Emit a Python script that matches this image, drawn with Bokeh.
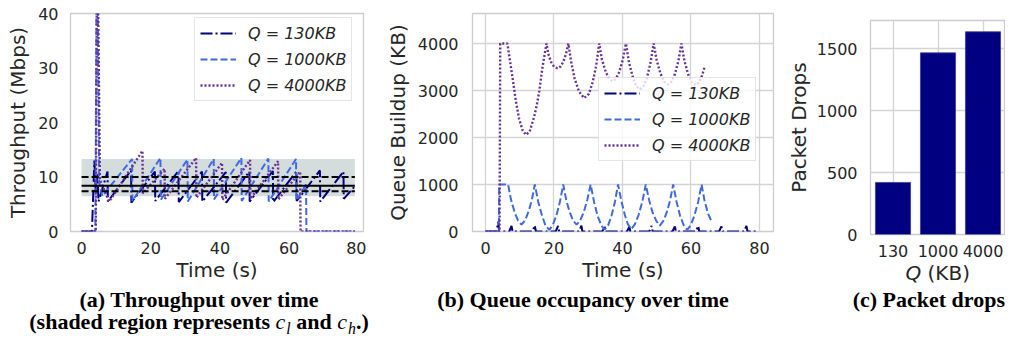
from bokeh.plotting import figure
from bokeh.models import Range1d, FixedTicker, Legend, LegendItem, Div, FactorRange
from bokeh.layouts import column, row
from bokeh.embed import file_html
from bokeh.resources import INLINE

# ---------------- data ----------------
series_labels = ["Q = 130KB", "Q = 1000KB", "Q = 4000KB"]

# (a) throughput (Mbps) over time (s)
thr_t_130 = [0, 3.0, 3.7, 4.1, 4.6, 4.9, 7.5, 7.6, 14.3, 14.4, 21.2, 21.3, 28.0, 28.1, 34.8, 34.9,
             41.7, 41.8, 48.5, 48.6, 55.3, 55.4, 62.1, 62.2, 68.9, 69.0, 75.7, 75.8, 79.0]
thr_v_130 = [0, 0, 13.0, 7.5, 10.5, 5.5, 11.0, 5.5, 11.2, 5.3, 11.0, 5.6, 11.1, 5.4, 11.0, 5.5,
             10.9, 5.3, 11.0, 5.5, 11.1, 5.4, 11.0, 5.6, 11.2, 5.5, 11.0, 6.0, 8.3]
thr_t_1000 = [0, 4.0, 4.3, 4.7, 5.1, 6.0, 14.6, 14.7, 22.8, 22.9, 30.6, 30.7, 38.2, 38.3, 46.2, 46.3,
              54.0, 54.1, 62.0, 62.1, 64.9, 65.0, 79.0]
thr_v_1000 = [0, 0, 41, 41, 9.0, 6.5, 13.3, 5.6, 13.5, 5.8, 13.2, 5.5, 13.3, 5.9, 13.5, 5.6,
              13.4, 5.5, 13.3, 5.7, 8.6, 0, 0]
thr_t_4000 = [0, 4.1, 4.4, 4.8, 5.3, 8.0, 17.6, 17.7, 24.0, 24.1, 33.1, 33.2, 40.6, 40.7, 48.7, 48.8,
              56.8, 56.9, 63.2, 63.3, 79.0]
thr_v_4000 = [0, 0, 41, 41, 9.5, 5.5, 14.8, 7.0, 11.5, 6.0, 13.5, 6.2, 12.6, 5.8, 13.1, 6.0,
              12.9, 5.9, 11.0, 0, 0]
band_t = [0, 79]            # shaded region extent (s)
band_c = [6.45, 13.3]       # c_l, c_h (Mbps)
ref_levels = [10.0, 8.4, 7.4]
ref_dashes = ["7 3", "solid", "7 3"]

# (b) queue buildup (KB) over time (s)
q_t_130 = [0, 3.2, 3.7, 4.0, 6.9, 7.6, 7.9, 13.7, 14.4, 14.7, 20.5, 21.2, 21.5, 27.3, 28.0, 28.3,
           34.1, 34.8, 35.1, 41.3, 42.0, 42.3, 47.8, 48.5, 48.8, 54.6, 55.3, 55.6, 61.4, 62.1, 62.4,
           68.2, 68.9, 69.2, 75.5, 76.2, 76.5, 79.5]
q_v_130 = [0, 0, 210, 0, 0, 120, 0, 0, 130, 0, 0, 120, 0, 0, 125, 0,
           0, 110, 0, 0, 100, 0, 0, 120, 0, 0, 110, 0, 0, 120, 0,
           0, 110, 0, 0, 120, 0, 0]
q_t_1000 = [0, 3.9, 4.0, 6.6,
            7.4, 8.5, 9.5, 10.5, 11.5, 12.5, 13.5, 14.4,
            15.4, 16.5, 17.5, 18.6, 19.6, 20.7, 21.7, 22.7,
            23.6, 24.6, 25.6, 26.6, 27.6, 28.7, 29.7, 30.7,
            31.7, 32.7, 33.8, 34.8, 35.8, 36.8, 37.8, 38.7,
            39.7, 40.7, 41.6, 42.6, 43.6, 44.7, 45.8, 46.8,
            47.8, 48.8, 49.9, 50.9, 51.9, 52.9, 53.9, 54.8,
            55.8, 56.8, 57.9, 58.9, 59.9, 61.0, 62.1, 63.1,
            64.0, 65.0, 66.0]
q_v_1000 = [0, 0, 1000, 1000,
            690, 410, 230, 145, 230, 410, 660, 1000,
            630, 340, 130, 35, 130, 340, 620, 1000,
            660, 410, 230, 145, 230, 410, 670, 1000,
            630, 340, 130, 40, 130, 340, 630, 1000,
            640, 350, 150, 55, 150, 350, 640, 1000,
            660, 400, 220, 125, 220, 400, 660, 1000,
            630, 340, 130, 35, 130, 340, 630, 1000,
            640, 380, 215]
q_t_4000 = [0, 4.1, 4.3, 6.4,
            6.9, 7.9, 8.85, 9.8, 10.8, 11.8, 12.9, 14.2, 15.0, 15.7, 16.6, 17.8,
            18.4, 19.2, 20.1, 21.0, 21.9, 22.7, 23.5, 24.2,
            25.0, 26.0, 27.3, 28.8, 30.2, 31.3, 32.3, 33.2,
            34.0, 35.1, 36.1, 37.1, 38.1, 39.1, 40.1, 41.0,
            41.9, 43.0, 44.0, 45.1, 46.1, 47.1, 48.1, 49.1,
            50.0, 51.1, 52.2, 53.3, 54.3, 55.3, 56.3, 57.2,
            58.1, 59.2, 60.3, 61.4, 62.3, 63.2, 64.0]
q_v_4000 = [0, 0, 4000, 4000,
            3750, 3270, 2780, 2400, 2160, 2058, 2130, 2440, 2700, 2990, 3475, 4000,
            3770, 3600, 3500, 3475, 3510, 3610, 3780, 4000,
            3620, 3260, 2980, 2840, 2930, 3180, 3520, 4000,
            3660, 3400, 3250, 3200, 3250, 3400, 3660, 4000,
            3600, 3290, 3090, 3030, 3090, 3260, 3560, 4000,
            3640, 3360, 3190, 3130, 3190, 3350, 3620, 4000,
            3630, 3340, 3170, 3115, 3170, 3310, 3510]

# (c) packet drops
q_sizes = ["130", "1000", "4000"]
packet_drops = [420, 1465, 1635]

# ---------------- style ----------------
NAVY, BLUE, PURPLE = "#000080", "#4169E1", "#663399"
TXT, SPINE, GRID = "#262626", "#cccccc", "#d4d4d4"
FONT = "DejaVu Sans"
colors = [NAVY, BLUE, PURPLE]
dashes = ["12 3 2 3", "7 3", "2 2"]
widths = [2, 2, 2.4]


def style(p, xstand=10, ystand=12, xlab=1, ylab=5):
    p.outline_line_color = SPINE
    p.outline_line_width = 1.3
    p.background_fill_color = "white"
    p.border_fill_color = "white"
    for ax in p.axis:
        ax.axis_line_color = None
        ax.major_tick_line_color = None
        ax.minor_tick_line_color = None
        ax.major_tick_out = 0
        ax.major_tick_in = 0
        ax.minor_tick_out = 0
        ax.minor_tick_in = 0
        ax.major_label_text_font = FONT
        ax.major_label_text_font_size = "16px"
        ax.major_label_text_color = TXT
        ax.axis_label_text_font = FONT
        ax.axis_label_text_font_size = "20px"
        ax.axis_label_text_font_style = "normal"
        ax.axis_label_text_color = TXT
    p.xaxis.major_label_standoff = xstand
    p.yaxis.major_label_standoff = ystand
    p.xaxis.axis_label_standoff = xlab
    p.yaxis.axis_label_standoff = ylab


def make_legend(items, loc):
    lg = Legend(items=items, location=loc)
    lg.border_line_color = SPINE
    lg.border_line_width = 1
    lg.background_fill_color = "white"
    lg.background_fill_alpha = 0.8
    lg.label_text_font = FONT
    lg.label_text_font_style = "italic"
    lg.label_text_font_size = "16px"
    lg.label_text_color = TXT
    lg.glyph_width = 36
    lg.glyph_height = 20
    lg.label_height = 20
    lg.spacing = 6
    lg.padding = 5
    lg.label_standoff = 12
    lg.margin = 0
    return lg


H = 289

# ---------------- (a) ----------------
pa = figure(width=366, height=H, x_range=Range1d(-3.2, 81.5), y_range=Range1d(0, 40),
            min_border_left=70, min_border_right=3, min_border_top=13, min_border_bottom=H - 232,
            output_backend="svg", toolbar_location=None)
pa.grid.visible = False
pa.quad(left=[band_t[0]], right=[band_t[1]], bottom=[band_c[0]], top=[band_c[1]],
        fill_color="darkslategray", fill_alpha=0.2, line_color=None)
ra = []
for tt, vv, c, d, w in zip([thr_t_130, thr_t_1000, thr_t_4000], [thr_v_130, thr_v_1000, thr_v_4000],
                           colors, dashes, widths):
    ra.append(pa.line(tt, vv, line_color=c, line_width=w, line_dash=d))
for lev, dsh in zip(ref_levels, ref_dashes):
    pa.line(band_t, [lev, lev], line_color="black", line_width=2, line_dash=dsh)
pa.xaxis.ticker = FixedTicker(ticks=[0, 20, 40, 60, 80])
pa.yaxis.ticker = FixedTicker(ticks=[0, 10, 20, 30, 40])
pa.xaxis.axis_label = "Time (s)"
pa.yaxis.axis_label = "Throughput (Mbps)"
style(pa, ylab=5)
pa.add_layout(make_legend([LegendItem(label=l, renderers=[r]) for l, r in zip(series_labels, ra)],
                          (124, 130)))

# ---------------- (b) ----------------
pb = figure(width=416, height=H, x_range=Range1d(-3.8, 84.1), y_range=Range1d(0, 4640),
            min_border_left=106, min_border_right=9, min_border_top=7, min_border_bottom=H - 231,
            output_backend="svg", toolbar_location=None)
pb.grid.grid_line_color = GRID
pb.grid.grid_line_width = 1.3
rb = []
for tt, vv, c, d, w in zip([q_t_130, q_t_1000, q_t_4000], [q_v_130, q_v_1000, q_v_4000],
                           colors, dashes, widths):
    rb.append(pb.line(tt, vv, line_color=c, line_width=w, line_dash=d))
pb.xaxis.ticker = FixedTicker(ticks=[0, 20, 40, 60, 80])
pb.yaxis.ticker = FixedTicker(ticks=[0, 1000, 2000, 3000, 4000])
pb.xaxis.axis_label = "Time (s)"
pb.yaxis.axis_label = "Queue Buildup (KB)"
style(pb, ystand=14, ylab=5)
pb.add_layout(make_legend([LegendItem(label=l, renderers=[r]) for l, r in zip(series_labels, rb)],
                          (126, 70)))

# ---------------- (c) ----------------
HC = 263
pc = figure(width=223, height=HC, x_range=FactorRange(*q_sizes, range_padding=0),
            y_range=Range1d(0, 1726),
            min_border_left=88, min_border_right=0, min_border_top=20, min_border_bottom=HC - 234,
            output_backend="svg", toolbar_location=None)
pc.grid.grid_line_color = GRID
pc.grid.grid_line_width = 1.3
pc.vbar(x=q_sizes, top=packet_drops, width=0.78, fill_color=NAVY, line_color="#3a3a99", line_width=0.8)
pc.yaxis.ticker = FixedTicker(ticks=[0, 500, 1000, 1500])
pc.yaxis.axis_label = "Packet Drops"
style(pc, ystand=13, ylab=3)

# x-axis title of (c), with an italic Q
ax_style = {"font-family": FONT, "font-size": "20px", "line-height": "20px", "color": TXT,
            "text-align": "right"}
dq = Div(text="<span style='display:inline-block;margin-right:35px'><i>Q</i> (KB)</span>",
         width=223, height=H - HC, margin=0, styles=ax_style)

# ---------------- captions ----------------
cap_base = {"font-family": "Liberation Serif", "font-weight": "bold", "font-size": "22px",
            "line-height": "22px", "color": "black"}
it = "<i style='font-weight:normal'>%s</i>"
sub = "<sub style='font-size:72%%;line-height:0;margin-left:1px'>%s</sub>"
da = Div(text="(a) Throughput over time<br>"
              "(shaded region represents " + it % "c" + sub % (it % "l") + " and "
              + it % "c" + sub % (it % "h") + ".)",
         width=398, height=48, margin=0, styles=dict(cap_base, **{"text-align": "center"}))
db = Div(text="(b) Queue occupancy over time",
         width=370, height=48, margin=0, styles=dict(cap_base, **{"text-align": "center"}))
dc = Div(text="(c) Packet drops",
         width=237, height=48, margin=0, styles=dict(cap_base, **{"text-align": "right"}))

layout = column(row(pa, pb, column(pc, dq)), row(da, db, dc))
open("out.html", "w").write(file_html(layout, INLINE))
